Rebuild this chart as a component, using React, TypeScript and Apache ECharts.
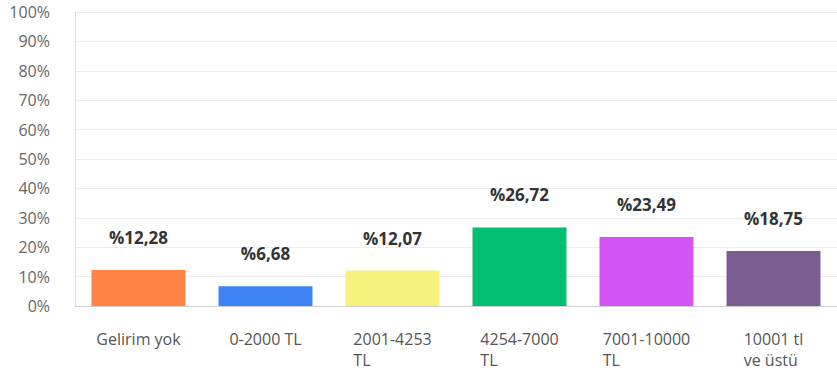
import React, { useEffect, useRef } from "react";
import * as echarts from "echarts";

const categories = [
  "Gelirim yok",
  "0-2000 TL",
  "2001-4253\nTL",
  "4254-7000\nTL",
  "7001-10000\nTL",
  "10001 tl\nve üstü",
];
const values = [12.28, 6.68, 12.07, 26.72, 23.49, 18.75];
const valueLabels = ["%12,28", "%6,68", "%12,07", "%26,72", "%23,49", "%18,75"];
const barColors = ["#FF8547", "#3E83F5", "#F7F07C", "#00BF6F", "#D554F5", "#7D5C8F"];
const yTicks = [0, 10, 20, 30, 40, 50, 60, 70, 80, 90, 100];

const FONT = "'Open Sans', sans-serif";

export default function App() {
  const ref = useRef<HTMLDivElement>(null);
  useEffect(() => {
    if (!ref.current) return;
    const chart = echarts.init(ref.current, undefined, { renderer: "svg" });
    chart.setOption({
      animation: false,
      grid: { left: 75, top: 12, width: 768, height: 294 },
      xAxis: {
        type: "category",
        data: categories,
        axisLine: { show: true, lineStyle: { color: "#cfcfcf", width: 1 } },
        axisTick: { show: false },
        axisLabel: {
          margin: 22,
          interval: 0,
          fontFamily: FONT,
          fontSize: 16,
          color: "#555",
          formatter: (v: string) =>
            v
              .split("\n")
              .map((l) => "{a|" + l + "}")
              .join("\n"),
          rich: {
            a: {
              align: "left",
              fontFamily: FONT,
              fontSize: 16,
              color: "#555",
              lineHeight: 21,
            },
          },
        },
      },
      yAxis: {
        type: "value",
        min: 0,
        max: 100,
        interval: 10,
        axisLine: { show: true, lineStyle: { color: "#dcdcdc", width: 1 } },
        axisTick: { show: false },
        axisLabel: {
          margin: 25,
          fontFamily: FONT,
          fontSize: 16,
          lineHeight: 17,
          color: "#666",
          formatter: (v: number) => (yTicks.includes(v) ? v + "%" : ""),
        },
        splitLine: { show: true, lineStyle: { color: "#ececec", width: 1 } },
      },
      series: [
        {
          type: "bar",
          barCategoryGap: "26%",
          data: values.map((v, i) => ({
            value: v,
            itemStyle: { color: barColors[i] },
          })),
          label: {
            show: true,
            position: "top",
            distance: 24,
            fontFamily: FONT,
            fontSize: 17,
            fontWeight: "bold",
            color: "#333",
            formatter: (p: any) => valueLabels[p.dataIndex],
          },
        },
      ],
    });
    return () => chart.dispose();
  }, []);
  return (
    <div
      ref={ref}
      style={{ position: "fixed", left: 0, top: 0, width: 837, height: 375, background: "#fff" }}
    />
  );
}
